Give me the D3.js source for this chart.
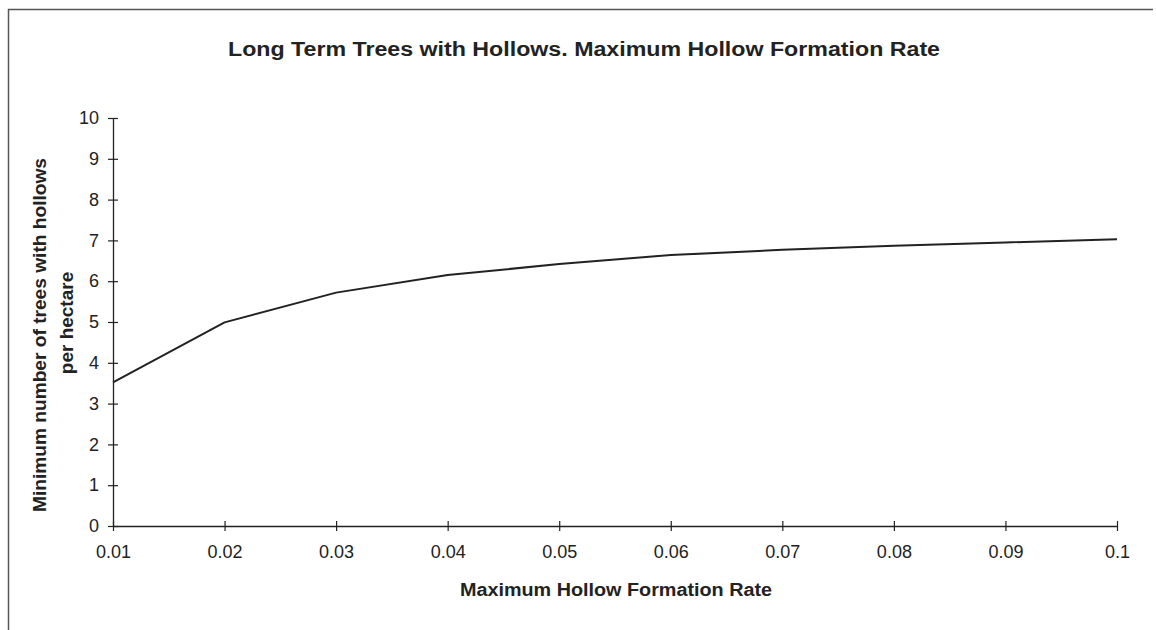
<!DOCTYPE html>
<html>
<head>
<meta charset="utf-8">
<script src="https://cdn.jsdelivr.net/npm/d3@7"></script>
<style>
  html, body { margin: 0; padding: 0; background: #fff; }
  svg { display: block; font-family: "Liberation Sans", Arial, sans-serif; }
</style>
</head>
<body>
<svg id="chart" width="1156" height="630"></svg>
<script>
const rates = [0.01, 0.02, 0.03, 0.04, 0.05, 0.06, 0.07, 0.08, 0.09, 0.1];
const trees = [3.52, 4.99, 5.72, 6.15, 6.42, 6.64, 6.77, 6.87, 6.95, 7.03];
const xTicks = [0.01, 0.02, 0.03, 0.04, 0.05, 0.06, 0.07, 0.08, 0.09, 0.1];
const yTicks = [0, 1, 2, 3, 4, 5, 6, 7, 8, 9, 10];
const title = "Long Term Trees with Hollows. Maximum Hollow Formation Rate";
const xTitle = "Maximum Hollow Formation Rate";
const yTitle = ["Minimum number of trees with hollows", "per hectare"];

const svg = d3.select("#chart");
const ink = "#222";

// outer frame (top and left edges visible)
svg.append("line").attr("x1", 8).attr("x2", 1153).attr("y1", 9.5).attr("y2", 9.5)
  .attr("stroke", "#555").attr("stroke-width", 1.5);
svg.append("line").attr("x1", 8.5).attr("x2", 8.5).attr("y1", 9).attr("y2", 630)
  .attr("stroke", "#555").attr("stroke-width", 1.5);

const x = d3.scaleLinear().domain([0.01, 0.1]).range([113, 1117]);
const y = d3.scaleLinear().domain([0, 10]).range([526, 118]);

// Y axis
const yAxis = svg.append("g").attr("transform", `translate(${x(0.01)},0)`)
  .call(d3.axisLeft(y).tickValues(yTicks).tickSize(0).tickPadding(14).tickFormat(d3.format("d")));
yAxis.select(".domain").attr("stroke", ink).attr("stroke-width", 1.3);
yAxis.selectAll(".tick line").attr("x1", -5).attr("x2", 5).attr("stroke", ink).attr("stroke-width", 1.2);
yAxis.selectAll(".tick text").attr("font-size", 18).attr("fill", ink).attr("font-family", "Liberation Sans, Arial, sans-serif");

// X axis
const xAxis = svg.append("g").attr("transform", `translate(0,${y(0)})`)
  .call(d3.axisBottom(x).tickValues(xTicks).tickSize(0).tickPadding(19).tickFormat(d => d3.format("")(+d.toFixed(2))));
xAxis.select(".domain").attr("stroke", ink).attr("stroke-width", 1.3);
xAxis.selectAll(".tick line").attr("y1", -5).attr("y2", 5).attr("stroke", ink).attr("stroke-width", 1.2);
xAxis.selectAll(".tick text").attr("font-size", 18).attr("fill", ink).attr("font-family", "Liberation Sans, Arial, sans-serif");

// line
const data = rates.map((r, i) => [r, trees[i]]);
svg.append("path").datum(data)
  .attr("fill", "none").attr("stroke", ink).attr("stroke-width", 2)
  .attr("stroke-linejoin", "round")
  .attr("d", d3.line().x(d => x(d[0])).y(d => y(d[1])));

// title
svg.append("text").attr("x", 584).attr("y", 56).attr("text-anchor", "middle")
  .attr("font-size", 20).attr("font-weight", "bold").attr("fill", ink)
  .attr("textLength", 712).attr("lengthAdjust", "spacingAndGlyphs")
  .text(title);

// x title
svg.append("text").attr("x", 616).attr("y", 596).attr("text-anchor", "middle")
  .attr("font-size", 18).attr("font-weight", "bold").attr("fill", ink)
  .attr("textLength", 312).attr("lengthAdjust", "spacingAndGlyphs")
  .text(xTitle);

// y title (two lines, rotated)
const yt = svg.append("text").attr("transform", "rotate(-90)")
  .attr("text-anchor", "middle").attr("font-size", 19).attr("font-weight", "bold").attr("fill", ink);
yt.append("tspan").attr("x", -335).attr("y", 46)
  .attr("textLength", 354).attr("lengthAdjust", "spacingAndGlyphs").text(yTitle[0]);
yt.append("tspan").attr("x", -323).attr("y", 73).text(yTitle[1]);
</script>
</body>
</html>
